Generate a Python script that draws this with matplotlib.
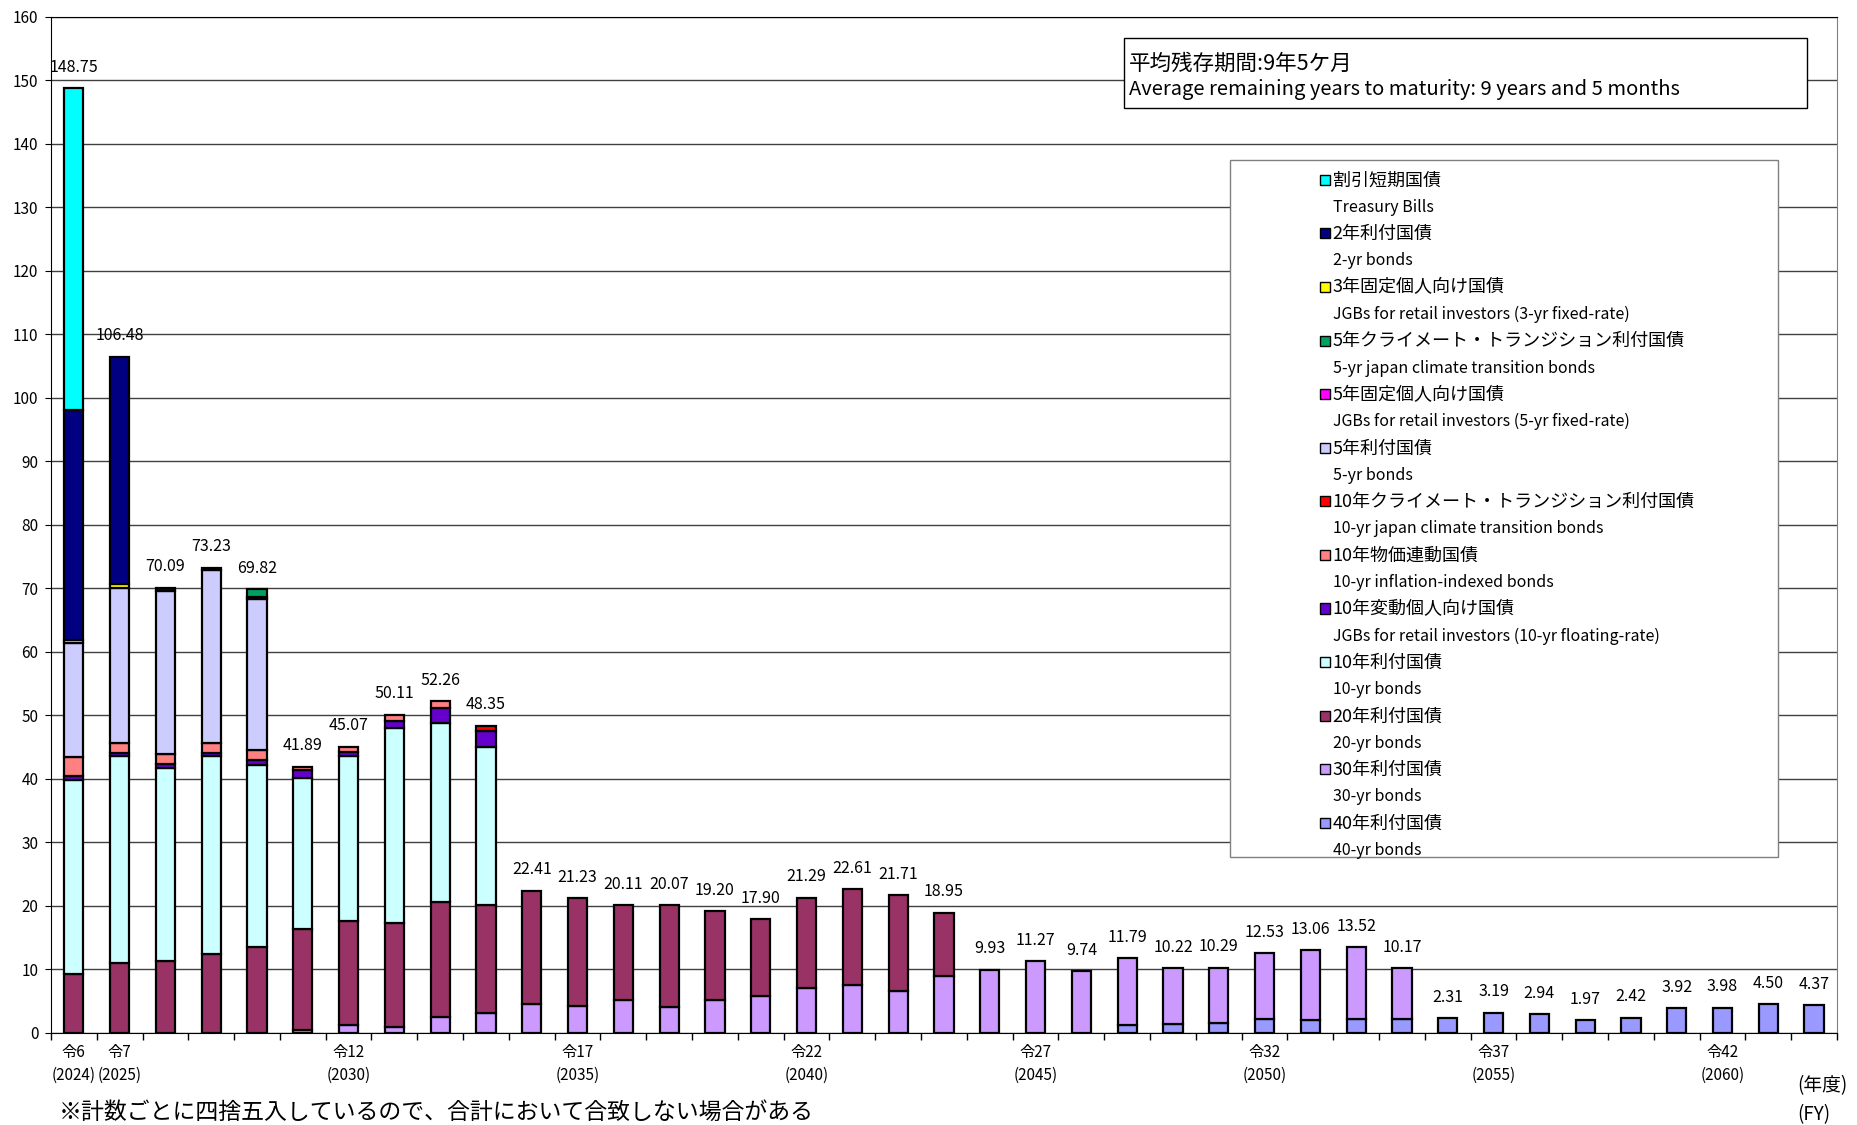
import numpy as np
import matplotlib
matplotlib.use('Agg')
import matplotlib.pyplot as plt
from matplotlib.patches import Patch, Rectangle

plt.rcParams['font.family'] = ['Noto Sans CJK JP', 'DejaVu Sans']

# fiscal years 2024..2062
years = list(range(2024, 2063))

# printed totals above bars (trillion yen)
totals = [148.75, 106.48, 70.09, 73.23, 69.82, 41.89, 45.07, 50.11, 52.26, 48.35,
          22.41, 21.23, 20.11, 20.07, 19.20, 17.90, 21.29, 22.61, 21.71, 18.95,
          9.93, 11.27, 9.74, 11.79, 10.22, 10.29, 12.53, 13.06, 13.52, 10.17,
          2.31, 3.19, 2.94, 1.97, 2.42, 3.92, 3.98, 4.50, 4.37]

# series, bottom of stack first
bond40 = [0] * 23 + [1.20, 1.47, 1.57, 2.15, 2.09, 2.20, 2.25,
                     2.31, 3.19, 2.94, 1.97, 2.42, 3.92, 3.98, 4.50, 4.37]
bond30 = [0, 0, 0, 0, 0, 0.50, 1.26, 0.89, 2.46, 3.09,
          4.57, 4.20, 5.25, 4.15, 5.25, 5.88, 7.09, 7.61, 6.67, 8.92,
          9.93, 11.27, 9.74, 10.59, 8.75, 8.72, 10.38, 10.97, 11.32, 7.92] + [0] * 9
bond20 = [9.28, 10.95, 11.37, 12.42, 13.47, 15.84, 16.38, 16.39, 18.22, 17.07,
          17.84, 17.03, 14.86, 15.92, 13.95, 12.02, 14.20, 15.00, 15.04, 10.03] + [0] * 19
bond10 = [30.55, 32.65, 30.35, 31.18, 28.67, 23.85, 25.92, 30.72, 28.12, 24.81] + [0] * 29
floating10 = [0.63, 0.50, 0.58, 0.40, 0.84, 1.20, 0.63, 1.16, 2.35, 2.52] + [0] * 29
inflation10 = [2.94, 1.50, 1.62, 1.60, 1.52, 0.50, 0.88, 0.95, 1.11, 0] + [0] * 29
climate10 = [0] * 9 + [0.86] + [0] * 29
bond5 = [18.03, 24.47, 25.63, 27.36, 23.84] + [0] * 34
fixed5 = [0, 0, 0, 0, 0.35] + [0] * 34
climate5 = [0, 0, 0, 0, 1.13] + [0] * 34
fixed3 = [0.50, 0.60] + [0] * 37
bond2 = [36.10, 35.81, 0.54, 0.27] + [0] * 35
tbills = [50.72] + [0] * 38

series = [
    (bond40, '#9999FF', '40年利付国債', '40-yr bonds'),
    (bond30, '#CC99FF', '30年利付国債', '30-yr bonds'),
    (bond20, '#993366', '20年利付国債', '20-yr bonds'),
    (bond10, '#CCFFFF', '10年利付国債', '10-yr bonds'),
    (floating10, '#6600CC', '10年変動個人向け国債', 'JGBs for retail investors (10-yr floating-rate)'),
    (inflation10, '#FF8080', '10年物価連動国債', '10-yr inflation-indexed bonds'),
    (climate10, '#FF0000', '10年クライメート・トランジション利付国債', '10-yr japan climate transition bonds'),
    (bond5, '#CCCCFF', '5年利付国債', '5-yr bonds'),
    (fixed5, '#FF00FF', '5年固定個人向け国債', 'JGBs for retail investors (5-yr fixed-rate)'),
    (climate5, '#00A060', '5年クライメート・トランジション利付国債', '5-yr japan climate transition bonds'),
    (fixed3, '#FFFF00', '3年固定個人向け国債', 'JGBs for retail investors (3-yr fixed-rate)'),
    (bond2, '#000080', '2年利付国債', '2-yr bonds'),
    (tbills, '#00FFFF', '割引短期国債', 'Treasury Bills'),
]

label_years = [2024, 2025, 2030, 2035, 2040, 2045, 2050, 2055, 2060]
label_names = ['令6\n(2024)', '令7\n(2025)', '令12\n(2030)', '令17\n(2035)', '令22\n(2040)',
               '令27\n(2045)', '令32\n(2050)', '令37\n(2055)', '令42\n(2060)']

fig = plt.figure(figsize=(18.58, 11.25), dpi=100)
ax = fig.add_axes([0.0274, 0.0818, 0.9613, 0.9034])

x = np.arange(len(years))
bottom = np.zeros(len(years))
for vals, color, jp, en in series:
    v = np.array(vals, dtype=float)
    m = v > 0
    ax.bar(x[m], v[m], bottom=bottom[m], width=0.42, color=color,
           edgecolor='black', linewidth=1.6, zorder=3)
    bottom += v

for xi, t in zip(x, totals):
    ax.annotate(f'{t:.2f}', (xi, t), xytext=(0, 9), textcoords='offset points',
                ha='center', va='bottom', fontsize=11.5)

ax.set_xlim(-0.5, len(years) - 0.5)
ax.set_ylim(0, 160)
ax.set_yticks(np.arange(0, 161, 10))
ax.tick_params(axis='y', length=4, pad=5, labelsize=11)
ax.grid(axis='y', color='#404040', linewidth=1)
ax.set_axisbelow(True)

# tick marks between categories, labels under selected bars
ax.set_xticks(np.arange(-0.5, len(years), 1))
ax.set_xticklabels([])
ax.tick_params(axis='x', which='major', length=5, width=1)
ax.set_xticks([years.index(y) for y in label_years], label_names, minor=True)
ax.tick_params(axis='x', which='minor', length=0, pad=8, labelsize=11)
for lbl in ax.get_xticklabels(minor=True):
    lbl.set_linespacing(1.45)

for s in ax.spines.values():
    s.set_color('black')
ax.spines['right'].set_color('#808080')

# average maturity box
ax.add_patch(Rectangle((0.6008, 0.910), 0.3824, 0.069, transform=ax.transAxes,
                       facecolor='white', edgecolor='black', linewidth=1, zorder=4))
ax.text(0.6035, 0.954, '平均残存期間:9年5ケ月', transform=ax.transAxes,
        ha='left', va='center', fontsize=15.5, zorder=5)
ax.text(0.6035, 0.928, 'Average remaining years to maturity: 9 years and 5 months',
        transform=ax.transAxes, ha='left', va='center', fontsize=14.5, zorder=5)

# legend
ax.add_patch(Rectangle((0.660, 0.173), 0.307, 0.686, transform=ax.transAxes,
                       facecolor='white', edgecolor='#808080', linewidth=1, zorder=4))
handles, labels = [], []
for vals, color, jp, en in reversed(series):
    handles.append(Patch(facecolor=color, edgecolor='black', linewidth=1))
    labels.append(jp)
    handles.append(Patch(facecolor='none', edgecolor='none'))
    labels.append(en)
leg = ax.legend(handles, labels, loc='upper left', bbox_to_anchor=(0.7105, 0.8477),
                frameon=False, fontsize=11.5, handlelength=0.6, handleheight=0.6,
                handletextpad=0.2, labelspacing=0.58, borderpad=0, borderaxespad=0)
for i, t in enumerate(leg.get_texts()):
    if i % 2 == 0:
        t.set_fontsize(13)
leg.set_zorder(6)

fig.text(1797 / 1858, 1 - 1086 / 1125, '(年度)', ha='left', va='center', fontsize=13.5)
fig.text(1797 / 1858, 1 - 1115 / 1125, '(FY)', ha='left', va='center', fontsize=13.5)
fig.text(59 / 1858, 1 - 1124 / 1125, '※計数ごとに四捨五入しているので、合計において合致しない場合がある',
         ha='left', va='bottom', fontsize=16.5)

fig.savefig('out.png', dpi=100)
